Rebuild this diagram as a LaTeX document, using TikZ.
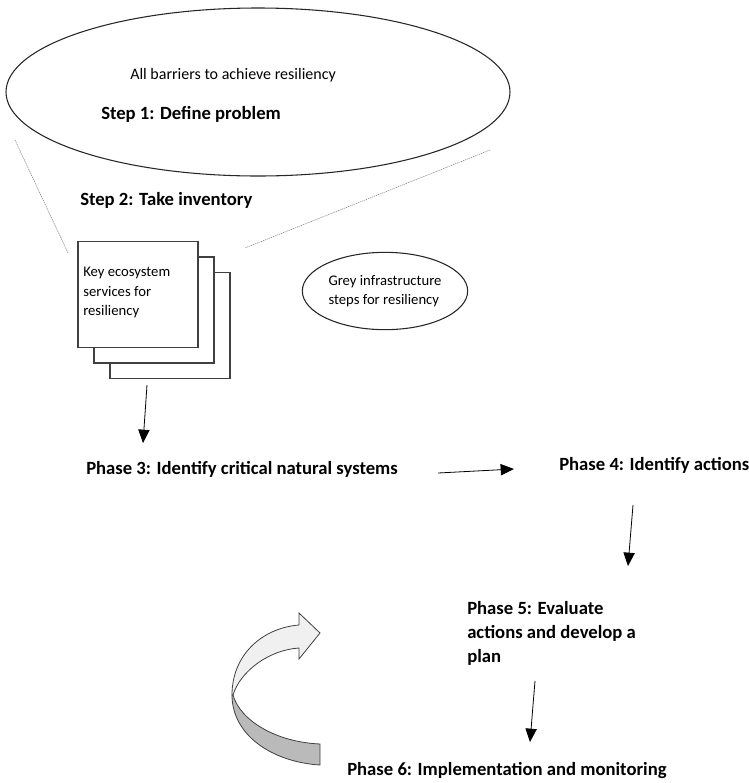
\documentclass[tikz,border=0pt]{standalone}
\usepackage{fontspec}
\setmainfont{Carlito}
\usetikzlibrary{arrows.meta,shapes.geometric}

\begin{document}
\begin{tikzpicture}[x=0.75pt,y=-0.75pt,
txt/.style={font=\fontsize{12}{14.6}\selectfont, inner sep=0pt, anchor=west, align=left},
small/.style={font=\fontsize{11}{14.6}\selectfont, inner sep=0pt, align=left},
phase/.style={font=\bfseries\fontsize{14}{18}\selectfont, inner sep=0pt, anchor=west, align=left},
oval/.style={draw=black!85, line width=0.8pt, ellipse, inner sep=0pt},
card/.style={draw=black!75, line width=0.8pt, fill=white, minimum width=90pt, minimum height=79.5pt},
guide/.style={draw=black!50, line width=0.4pt, dash pattern=on 1pt off 0.6pt},
flow/.style={-{Triangle[length=10pt,width=8.5pt]}, line width=0.6pt}]
\useasboundingbox (0,0) rectangle (749,783);

\node[oval, minimum width=378pt, minimum height=126pt] (problem) at (258,92) {};
\node[txt] (barriers) at (130,75) {All barriers to achieve resiliency};
\node[phase] (step1) at (101,114) {Step 1: Define problem};
\node[phase] (step2) at (80,200) {Step 2: Take inventory};

\coordinate (gl1) at (15,140);
\coordinate (gl2) at (68,253);
\coordinate (gr1) at (490,150);
\coordinate (gr2) at (245,248);
\draw[guide] (gl1) -- (gl2);
\draw[guide] (gr1) -- (gr2);

\node[card] (card3) at (170,325.5) {};
\node[card] (card2) at (154,310) {};
\node[card] (card1) at (138,294.5) {};
\node[small, anchor=north west] (services) at (83,267)
  {Key ecosystem\\services for\\resiliency};

\node[oval, small, minimum width=124pt, minimum height=58pt]
  (grey) at (385,291) {Grey infrastructure\\steps for resiliency};

\node[phase] (phase3) at (86,469) {Phase 3: Identify critical natural systems};
\node[phase] (phase4) at (559,465) {Phase 4: Identify actions};
\node[phase, anchor=north west] (phase5) at (467,601)
  {Phase 5: Evaluate\\actions and develop a\\plan};
\node[phase] (phase6) at (347,771) {Phase 6: Implementation and monitoring};

\coordinate (a1s) at (147,385);
\coordinate (a1e) at (143,443);
\coordinate (a2s) at (438,473);
\coordinate (a2e) at (514,469);
\coordinate (a3s) at (633,505);
\coordinate (a3e) at (628,566);
\coordinate (a4s) at (535,681);
\coordinate (a4e) at (530,742);
\draw[flow] (a1s) -- (a1e);
\draw[flow] (a2s) -- (a2e);
\draw[flow] (a3s) -- (a3e);
\draw[flow] (a4s) -- (a4e);

\filldraw[fill=black!27, draw=black!75, line width=0.6pt]
  (232,695) .. controls (232,735) and (272,762) .. (320,765) -- (320,744)
  .. controls (275,742) and (240,720) .. (233,695) -- cycle;
\filldraw[fill=black!6, draw=black!75, line width=0.6pt]
  (232,695) .. controls (232,655) and (262,628) .. (299,625) -- (299,613)
  -- (320,633) -- (299,659) -- (299,648)
  .. controls (268,650) and (240,672) .. (233,695) -- cycle;
\end{tikzpicture}
\end{document}
